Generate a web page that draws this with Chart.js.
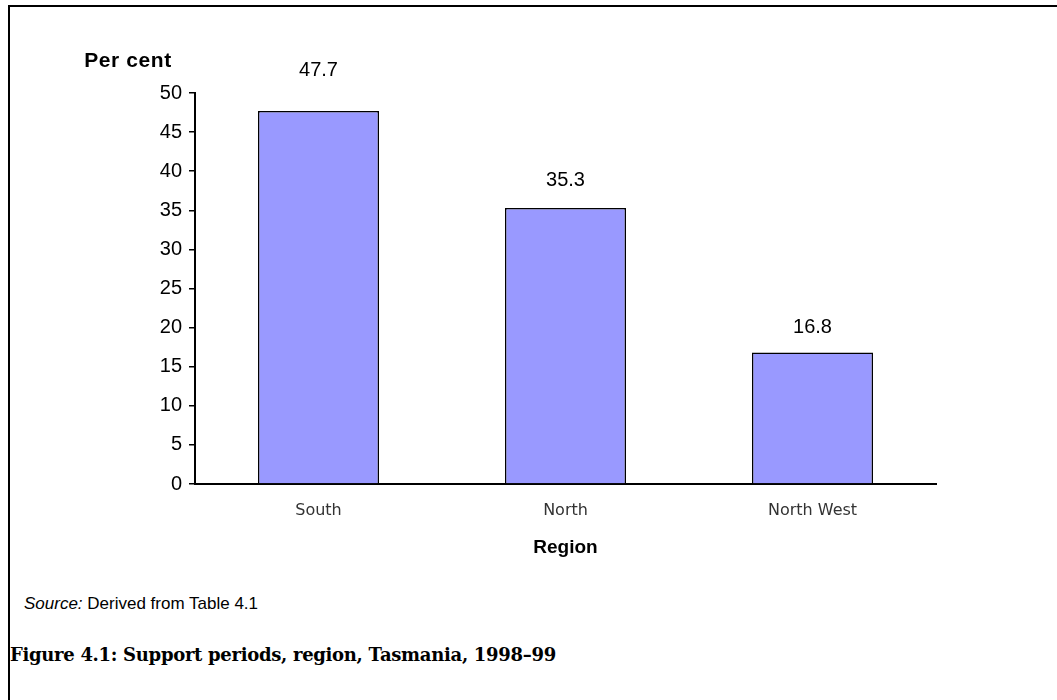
<!DOCTYPE html>
<html>
<head>
<meta charset="utf-8">
<script src="https://cdn.jsdelivr.net/npm/chart.js@4.4.0/dist/chart.umd.min.js"></script>
<style>
  html, body { margin: 0; padding: 0; background: #fff; }
  #wrap { position: relative; width: 1057px; height: 700px; overflow: hidden; }
  #frame { position: absolute; left: 8px; top: 5px; width: 1049px; height: 695px;
           border-top: 2px solid #000; border-left: 2px solid #000; box-sizing: border-box; }
  #chartBox { position: absolute; left: 0; top: 0; width: 1057px; height: 580px; }
  #source { position: absolute; left: 24px; top: 594px; font: 17px "Liberation Sans", Arial, sans-serif; color: #000; }
  #source i { font-style: italic; }
  #caption { position: absolute; left: 10px; top: 644px; font: bold 18px "DejaVu Serif", "Liberation Serif", serif;
             letter-spacing: -0.3px; color: #000; }
</style>
</head>
<body>
<div id="wrap">
  <div id="frame"></div>
  <div id="chartBox"><canvas id="chartRegiao"></canvas></div>
  <div id="source"><i>Source:</i> Derived from Table 4.1</div>
  <div id="caption">Figure 4.1: Support periods, region, Tasmania, 1998–99</div>
</div>
<script>
const regioes = ['South', 'North', 'North West'];
const percentuais = [47.7, 35.3, 16.8];
const escalaY = { min: 0, max: 50, passo: 5 };

// rótulos de valor em cima das barras (o primeiro fica mais alto no original)
const afastamentoRotulo = [41, 27, 25];

const rotulosBarras = {
    id: 'rotulosBarras',
    afterDatasetsDraw(chart) {
        const ctx = chart.ctx;
        ctx.save();
        ctx.font = '20px "Liberation Sans", Arial, sans-serif';
        ctx.fillStyle = '#000';
        ctx.textAlign = 'center';
        ctx.textBaseline = 'middle';
        chart.getDatasetMeta(0).data.forEach((bar, i) => {
            ctx.fillText(percentuais[i].toFixed(1), bar.x, bar.y - afastamentoRotulo[i]);
        });
        // título do eixo Y no topo
        const y = chart.scales.y;
        ctx.font = 'bold 21px "Liberation Sans", Arial, sans-serif';
        ctx.letterSpacing = '0.6px';
        ctx.fillText('Per cent', 128, y.top - 32);
        ctx.restore();
    }
};

function gerarGraficoRegiao() {
    const config = {
        type: 'bar',
        data: {
            labels: regioes,
            datasets: [{
                data: percentuais,
                backgroundColor: '#9999FF',
                borderColor: '#000000',
                borderWidth: 1.5,
                barPercentage: 0.49,
                categoryPercentage: 1
            }]
        },
        options: {
            responsive: true,
            maintainAspectRatio: false,
            animation: false,
            layout: { padding: { left: 0, right: 121, top: 93, bottom: 0 } },
            plugins: {
                legend: { display: false },
                tooltip: { enabled: false }
            },
            scales: {
                x: {
                    grid: { display: true, drawOnChartArea: false, drawTicks: false },
                    border: { color: '#000', width: 2 },
                    ticks: {
                        color: '#333',
                        padding: 17,
                        font: { family: '"DejaVu Sans", sans-serif', size: 16 }
                    },
                    title: {
                        display: true,
                        text: 'Region',
                        color: '#000',
                        font: { family: '"Liberation Sans", Arial, sans-serif', size: 19, weight: 'bold' },
                        padding: { top: 0, bottom: 21 }
                    },
                    afterFit: (scale) => { scale.height = 96; }
                },
                y: {
                    min: escalaY.min,
                    max: escalaY.max,
                    grid: { drawOnChartArea: false, drawTicks: true, tickLength: 6, color: '#000', lineWidth: 1.5 },
                    border: { color: '#000', width: 2 },
                    ticks: {
                        stepSize: escalaY.passo,
                        color: '#000',
                        padding: 7,
                        font: { family: '"Liberation Sans", Arial, sans-serif', size: 20 }
                    },
                    afterFit: (scale) => { scale.width = 195; }
                }
            }
        },
        plugins: [rotulosBarras]
    };
    return new Chart(document.getElementById('chartRegiao'), config);
}

document.addEventListener('DOMContentLoaded', () => {
    gerarGraficoRegiao();
});
</script>
</body>
</html>
